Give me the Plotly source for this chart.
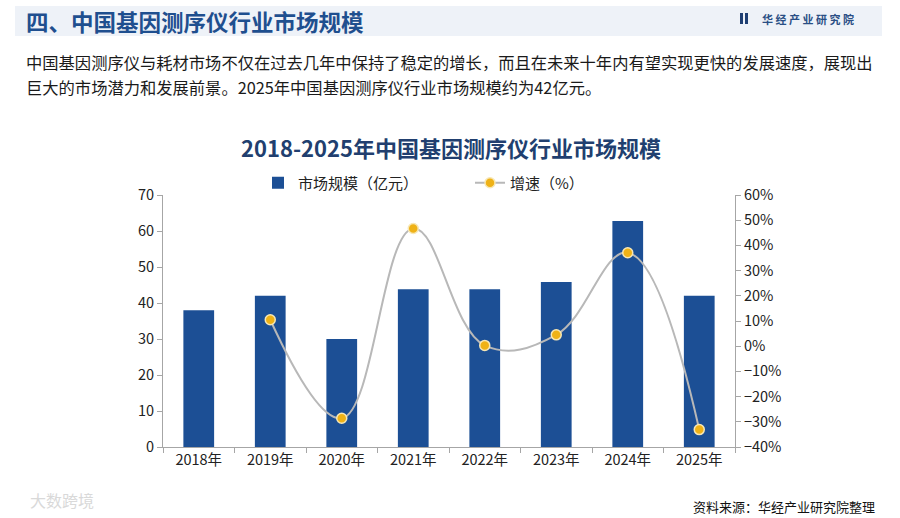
import plotly.graph_objects as go

years = ['2018年', '2019年', '2020年', '2021年', '2022年', '2023年', '2024年', '2025年']
market_size = [38, 42, 30, 43.8, 43.8, 45.8, 62.8, 42]          # 亿元
growth = [None, 10.5, -28.6, 46.7, 0.3, 4.5, 37.1, -33.1]        # %

FONT = 'Noto Sans CJK SC'
W, H = 900, 518
L, R, T, B = 163, 735, 195, 447   # plot area in pixels


def px_x(px):
    return (px - L) / (R - L)


def px_y(py):
    return (B - py) / (B - T)


fig = go.Figure()

fig.add_trace(go.Bar(
    x=years, y=market_size, name='市场规模（亿元）',
    marker=dict(color='#1c4f95', line=dict(width=0)),
))

fig.add_trace(go.Scatter(
    x=years, y=growth, name='增速（%）', yaxis='y2',
    mode='lines+markers',
    line=dict(color='#b8b8b8', width=2, shape='spline', smoothing=1.15),
    marker=dict(color='#efb217', size=10, line=dict(color='#f7e7b5', width=1.5)),
))

axis_font = dict(family=FONT, size=14.5, color='#222222')

fig.update_layout(
    width=W, height=H,
    margin=dict(l=L, r=W - R, t=T, b=H - B),
    paper_bgcolor='white', plot_bgcolor='white',
    font=dict(family=FONT),
    bargap=0.57,
    showlegend=True,
    legend=dict(
        orientation='h', x=px_x(258), xanchor='left', y=px_y(183), yanchor='middle',
        font=dict(family=FONT, size=15, color='#222222'),
        itemwidth=30, tracegroupgap=0, bgcolor='rgba(0,0,0,0)',
        entrywidth=167, entrywidthmode='pixels',
    ),
    xaxis=dict(
        showline=True, linecolor='#a6a6a6', linewidth=1,
        ticks='outside', tickson='boundaries', ticklen=5, tickcolor='#a6a6a6',
        tickfont=axis_font, showgrid=False,
    ),
    yaxis=dict(
        range=[0, 70], dtick=10, showgrid=False, zeroline=False,
        showline=True, linecolor='#a6a6a6', linewidth=1,
        ticks='outside', ticklen=5, tickcolor='#a6a6a6', tickfont=axis_font,
    ),
    yaxis2=dict(
        range=[-40, 60], dtick=10, ticksuffix='%', overlaying='y', side='right',
        showgrid=False, zeroline=False,
        showline=True, linecolor='#a6a6a6', linewidth=1,
        ticks='outside', ticklen=5, tickcolor='#a6a6a6', tickfont=axis_font,
    ),
)

# header band
fig.add_shape(type='rect', xref='paper', yref='paper',
              x0=px_x(15), x1=px_x(882), y0=px_y(36), y1=px_y(6),
              fillcolor='#eef2f8', line=dict(width=0), layer='below')
fig.add_annotation(text='<b>四、中国基因测序仪行业市场规模</b>', xref='paper', yref='paper',
                   x=px_x(24), y=px_y(21), xanchor='left', yanchor='middle', showarrow=False,
                   font=dict(family=FONT, size=22.5, color='#1f4f8f'))

# logo
fig.add_shape(type='rect', xref='paper', yref='paper',
              x0=px_x(740), x1=px_x(743), y0=px_y(24), y1=px_y(13),
              fillcolor='#1f3f73', line=dict(width=0))
fig.add_shape(type='rect', xref='paper', yref='paper',
              x0=px_x(745), x1=px_x(748), y0=px_y(24), y1=px_y(13),
              fillcolor='#1f3f73', line=dict(width=0))
fig.add_annotation(text='<b>华 经 产 业 研 究 院</b>', xref='paper', yref='paper',
                   x=px_x(760), y=px_y(19), xanchor='left', yanchor='middle', showarrow=False,
                   font=dict(family=FONT, size=11, color='#2a4f85'))

# paragraph
fig.add_annotation(text='中国基因测序仪与耗材市场不仅在过去几年中保持了稳定的增长，而且在未来十年内有望实现更快的发展速度，展现出',
                   xref='paper', yref='paper', x=px_x(24), y=px_y(62),
                   xanchor='left', yanchor='middle', showarrow=False,
                   font=dict(family=FONT, size=16.3, color='#1a1a1a'))
fig.add_annotation(text='巨大的市场潜力和发展前景。2025年中国基因测序仪行业市场规模约为42亿元。',
                   xref='paper', yref='paper', x=px_x(24), y=px_y(87),
                   xanchor='left', yanchor='middle', showarrow=False,
                   font=dict(family=FONT, size=16.3, color='#1a1a1a'))

# chart title
fig.add_annotation(text='<b>2018-2025年中国基因测序仪行业市场规模</b>', xref='paper', yref='paper',
                   x=px_x(451), y=px_y(147), xanchor='center', yanchor='middle', showarrow=False,
                   font=dict(family=FONT, size=22, color='#213f6f'))

# source and watermark
fig.add_annotation(text='资料来源：华经产业研究院整理', xref='paper', yref='paper',
                   x=px_x(877), y=px_y(506), xanchor='right', yanchor='middle', showarrow=False,
                   font=dict(family=FONT, size=13, color='#111111'))
fig.add_annotation(text='大数跨境', xref='paper', yref='paper',
                   x=px_x(28), y=px_y(500), xanchor='left', yanchor='middle', showarrow=False,
                   font=dict(family=FONT, size=16, color='#d9d9d9'))

fig.write_html('out.html', config={'displayModeBar': False},
               post_script="document.body.style.margin='0';document.body.style.overflow='hidden';")
